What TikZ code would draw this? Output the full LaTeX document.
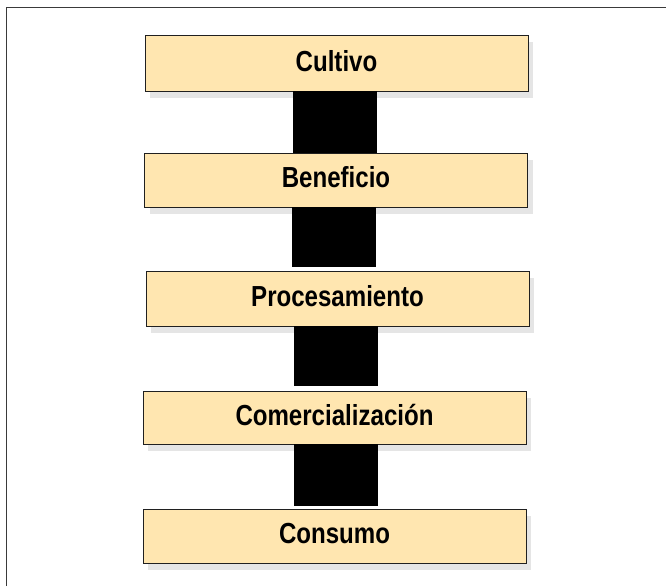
\documentclass[tikz,border=0pt]{standalone}
\usepackage{fontspec}
\newfontfamily\boxfont{Liberation Sans}[FakeStretch=0.83]
\usetikzlibrary{shadows}
\definecolor{boxfill}{HTML}{FFE6B0}
\definecolor{boxline}{HTML}{202020}
\definecolor{frameline}{HTML}{3A3A3A}
\definecolor{shadowgray}{HTML}{E5E5E5}
\tikzset{
  stagebox/.style={draw=boxline, line width=1pt, fill=boxfill,
    minimum width=383pt, minimum height=#1, inner sep=0pt, outer sep=0pt,
    text height=20pt, text depth=5pt,
    font=\boxfont\bfseries\fontsize{29}{31}\selectfont,
    general shadow={fill=shadowgray, shadow xshift=5pt, shadow yshift=-6.5pt}},
  stagebox/.default=55pt,
  linkbar/.style={draw=black, line width=84pt}
}
\begin{document}
\begin{tikzpicture}[x=1pt,y=-1pt]
\useasboundingbox (0,0) rectangle (666,586);
\draw[frameline, line width=1.8pt] (6.5,586) -- (6.5,7.5) -- (666,7.5);
\node[stagebox=55pt] (c1) at (336.5,63.5) {Cultivo};
\node[stagebox=54pt] (c2) at (336,180) {Beneficio};
\node[stagebox=55pt] (c3) at (337.5,298.5) {Procesamiento};
\node[stagebox=53pt] (c4) at (334.5,417.5) {Comercialización};
\node[stagebox=54pt] (c5) at (334.5,536) {Consumo};
\draw[linkbar] ([xshift=-2pt]c1.south) -- ([xshift=-2pt]c1.south |- c2.north);
\draw[linkbar, shorten >=4pt] ([xshift=-2.5pt]c2.south) -- ([xshift=-2.5pt]c2.south |- c3.north);
\draw[linkbar, shorten >=5pt] ([xshift=-2pt]c3.south) -- ([xshift=-2pt]c3.south |- c4.north);
\draw[linkbar, shorten >=3pt] ([xshift=1pt]c4.south) -- ([xshift=1pt]c4.south |- c5.north);
\end{tikzpicture}
\end{document}
